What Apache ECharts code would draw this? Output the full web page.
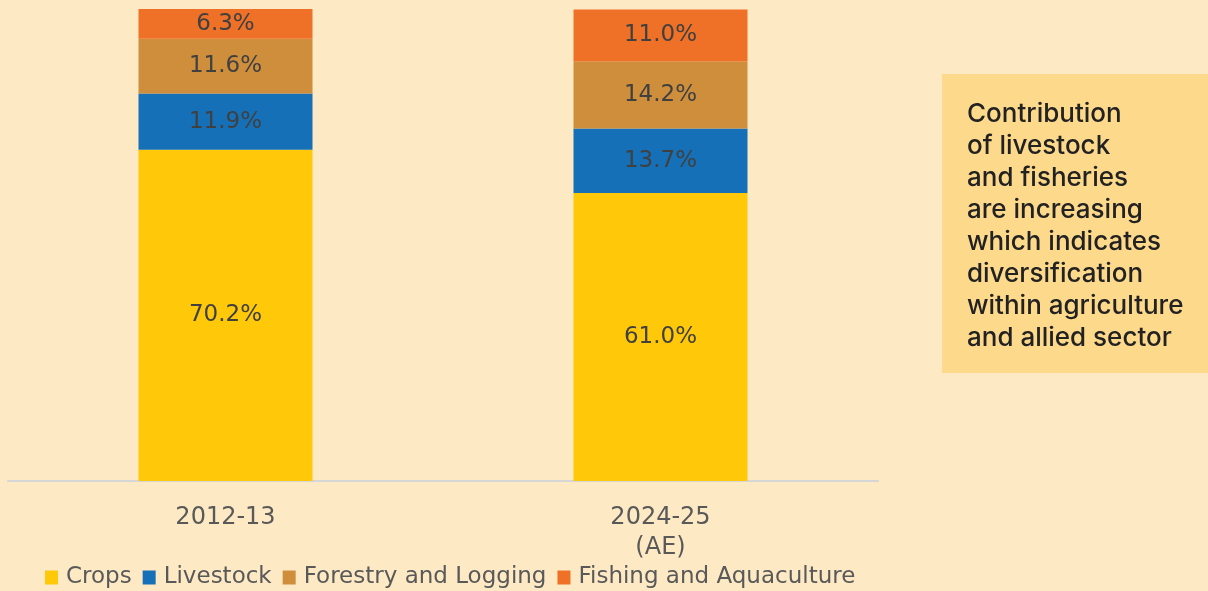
<!DOCTYPE html>
<html>
<head>
<meta charset="utf-8">
<script src="https://cdn.jsdelivr.net/npm/echarts@6/dist/echarts.min.js"></script>
<style>
html, body { margin: 0; padding: 0; background: #fde9c4; }
#main { width: 1208px; height: 591px; }
</style>
</head>
<body>
<div id="main"></div>
<script>
var years = ['2012-13', '2024-25\n(AE)'];
var crops = [70.2, 61.0];
var livestock = [11.9, 13.7];
var forestry = [11.6, 14.2];
var fishing = [6.3, 11.0];
var noteLines = ['Contribution', 'of livestock', 'and fisheries', 'are increasing', 'which indicates', 'diversification', 'within agriculture', 'and allied sector'];

var labelFont = '"DejaVu Sans", sans-serif';

var makeSeries = function (name, data, color) {
    return {
        name: name,
        type: 'bar',
        stack: 'total',
        barWidth: '40%',
        data: data,
        itemStyle: { color: color },
        label: {
            show: true,
            position: 'inside',
            formatter: function (p) { return p.value.toFixed(1) + '%'; },
            color: '#404040',
            fontSize: 23,
            fontFamily: labelFont
        }
    };
};

var myChart = echarts.init(document.getElementById('main'));
var option = {
    backgroundColor: '#fde9c4',
    grid: { left: 8, right: 330, top: 9, bottom: 110 },
    legend: {
        left: 40,
        top: 561,
        itemWidth: 13,
        itemHeight: 14,
        itemGap: 11,
        icon: 'rect',
        textStyle: { color: '#595959', fontSize: 23, fontFamily: labelFont, padding: [0, 0, 0, 3] },
        data: ['Crops', 'Livestock', 'Forestry and Logging', 'Fishing and Aquaculture']
    },
    xAxis: {
        type: 'category',
        data: years,
        axisLine: { lineStyle: { color: '#d6d6d6', width: 2 } },
        axisTick: { show: false },
        axisLabel: {
            color: '#595959',
            fontSize: 24,
            fontFamily: labelFont,
            lineHeight: 30,
            margin: 22
        }
    },
    yAxis: {
        type: 'value',
        min: 0,
        max: 100,
        show: false,
        splitLine: { show: false }
    },
    series: [
        makeSeries('Crops', crops, '#ffc90a'),
        makeSeries('Livestock', livestock, '#1570b8'),
        makeSeries('Forestry and Logging', forestry, '#ce8e3c'),
        makeSeries('Fishing and Aquaculture', fishing, '#ee7127')
    ],
    graphic: [
        {
            type: 'rect',
            left: 942,
            top: 74,
            shape: { width: 266, height: 299 },
            style: { fill: '#fdd98b' }
        },
        {
            type: 'text',
            left: 967,
            top: 98,
            style: {
                text: noteLines.join('\n'),
                fill: '#222222',
                font: '500 26px Inter, sans-serif',
                lineHeight: 32
            }
        }
    ]
};
myChart.setOption(option);
</script>
</body>
</html>
